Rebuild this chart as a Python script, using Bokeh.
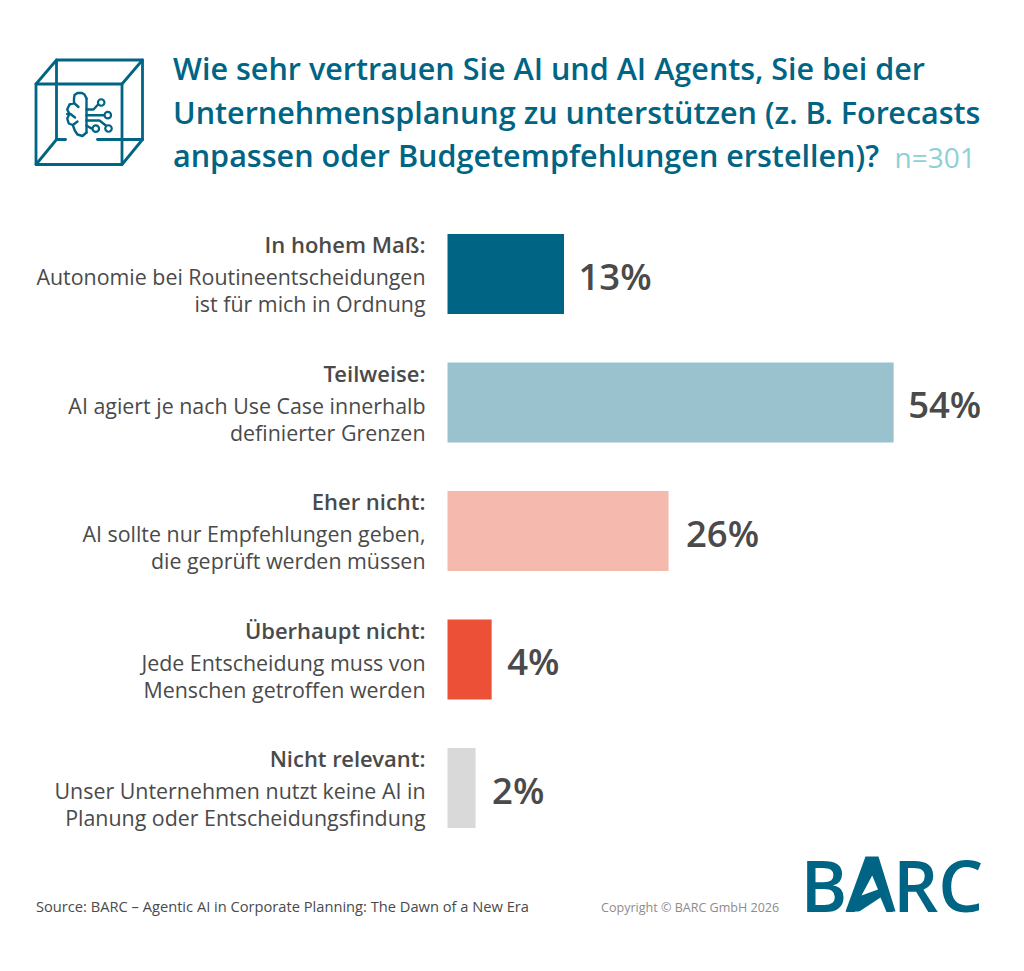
from bokeh.plotting import figure
from bokeh.models import Range1d
from bokeh.core.properties import value
from bokeh.embed import file_html
from bokeh.resources import INLINE

heads = ["In hohem Maß:", "Teilweise:", "Eher nicht:", "Überhaupt nicht:", "Nicht relevant:"]
line1 = ["Autonomie bei Routineentscheidungen", "AI agiert je nach Use Case innerhalb",
         "AI sollte nur Empfehlungen geben,", "Jede Entscheidung muss von",
         "Unser Unternehmen nutzt keine AI in"]
line2 = ["ist für mich in Ordnung", "definierter Grenzen", "die geprüft werden müssen",
         "Menschen getroffen werden", "Planung oder Entscheidungsfindung"]
values = [13, 54, 26, 4, 2]
colors = ["#006484", "#9AC1CE", "#F6B9AE", "#EC5036", "#D9D9D9"]
title_lines = ["Wie sehr vertrauen Sie AI und AI Agents, Sie bei der",
               "Unternehmensplanung zu unterstützen (z. B. Forecasts",
               "anpassen oder Budgetempfehlungen erstellen)?"]
n_label = "n=301"
source = "Source: BARC – Agentic AI in Corporate Planning: The Dawn of a New Era"
copyright_text = "Copyright © BARC GmbH 2026"
logo = "BARC"

TEAL = "#006484"
DARK = "#4A4A4A"
W, H = 1008, 955
ZERO_PX, PX_PER_PCT = 459.0, 8.04
ROW0, ROW_PX = 273.5, 128.5
BAR_H = 80 / ROW_PX
BASE = -12 / PX_PER_PCT

p = figure(width=W, height=H, output_backend="svg", toolbar_location=None,
           x_range=Range1d((0 - ZERO_PX) / PX_PER_PCT, (W - ZERO_PX) / PX_PER_PCT),
           y_range=Range1d((H - ROW0) / ROW_PX, (0 - ROW0) / ROW_PX),
           min_border=0, outline_line_color=None, background_fill_color="white",
           border_fill_color="white")
p.axis.visible = False
p.grid.visible = False
p.extra_x_ranges["px"] = Range1d(0, W)
p.extra_y_ranges["px"] = Range1d(H, 0)

rows = list(range(len(values)))
p.hbar(y=rows, left=BASE, right=values, height=BAR_H, color=colors, line_color=None)

FONT = value("Open Sans")
SEMI = value("Open Sans SemiBold")
right_px = [425] * len(rows)
p.text(x=right_px, y=rows, text=heads, x_range_name="px", y_offset=-30, text_align="right",
       text_baseline="alphabetic", text_font=SEMI,
       text_font_size="22px", text_color=DARK)
p.text(x=right_px, y=rows, text=line1, x_range_name="px", y_offset=2.7, text_align="right",
       text_baseline="alphabetic", text_font=FONT, text_font_size="21.4px", text_color=DARK)
p.text(x=right_px, y=rows, text=line2, x_range_name="px", y_offset=29.7, text_align="right",
       text_baseline="alphabetic", text_font=FONT, text_font_size="21.4px", text_color=DARK)
p.text(x=values, y=rows, text=[f"{v}%" for v in values], x_offset=[14.5, 14.5, 17.5, 15.5, 16.5],
       y_offset=1.5, text_baseline="alphabetic", text_font=SEMI,
       text_font_size="36.5px", text_color=DARK)

# title
p.text(x=[172.5] * 3, y=[67.5, 111.3, 154.2], text=title_lines, x_range_name="px", y_range_name="px",
       text_baseline="alphabetic", text_font=SEMI,
       text_font_size="30.55px", text_color=TEAL)
p.text(x=[894], y=[156], text=[n_label], x_range_name="px", y_range_name="px",
       text_baseline="alphabetic", text_font=FONT,
       text_font_size="28px", text_color="#8ED0D6")

# footer
p.text(x=[35.5], y=[905.7], text=[source], x_range_name="px", y_range_name="px",
       text_baseline="alphabetic", text_font=FONT, text_font_size="14.66px", text_color=DARK)
p.text(x=[600.5], y=[906.8], text=[copyright_text], x_range_name="px", y_range_name="px",
       text_baseline="alphabetic", text_font=FONT, text_font_size="12.56px", text_color="#8C8C8C")
p.text(x=[800], y=[883.5], text=[logo], x_range_name="px", y_range_name="px",
       text_baseline="alphabetic", text_font=SEMI, text_font_size="71px", text_color=TEAL)
# logo: the stylised A, with its slanted counter and open foot
p.patch(x=[865, 878, 895, 885, 845], y=[856, 856, 911, 911, 911], x_range_name="px",
        y_range_name="px", color=TEAL, line_color=None)
p.patches(xs=[[871.7, 861, 877.5], [858, 880, 886]], ys=[[875, 895, 889], [911.5, 897, 911.5]],
          x_range_name="px", y_range_name="px", color="white", line_color=None)

# icon: cube
cube_x = [[35.5, 121.5, 121.5, 35.5, 35.5], [56, 56, 142, 142], [56, 65], [97, 142],
          [35.5, 56], [121.5, 142], [35.5, 56], [121.5, 142]]
cube_y = [[83.5, 83.5, 164, 164, 83.5], [139, 59.5, 59.5, 139], [139, 139], [139, 139],
          [83.5, 59.5], [83.5, 59.5], [164, 139], [164, 139]]
p.multi_line(xs=cube_x, ys=cube_y, x_range_name="px", y_range_name="px",
             line_color=TEAL, line_width=2.8, line_join="round", line_cap="round")
# icon: brain outline, spine, curls and circuit
brain_x = [[86, 84, 81.5, 77, 74, 73.5, 73.5, 69, 66.7, 69, 66.7, 68.3, 72.3, 74.3, 77, 82, 86],
           [86, 86], [66.7, 70, 74.5], [73.5, 78], [72.3, 77],
           [86, 93, 98], [86, 104], [86, 99, 106], [86, 90, 92.5]]
brain_y = [[98, 94, 92.5, 92.5, 94.5, 98, 102.5, 104, 109, 113.5, 118, 123, 124.5, 130, 134, 135.5, 132],
           [98, 132], [113.5, 113.5, 117], [102.5, 106.5], [124.5, 121],
           [109, 109, 103.5], [114.7, 114.7], [120, 120, 125.5], [125, 127.5, 128]]
p.multi_line(xs=brain_x, ys=brain_y, x_range_name="px", y_range_name="px",
             line_color=TEAL, line_width=2.4, line_join="round", line_cap="round")
p.scatter(x=[100.7, 107.3, 95.3, 108], y=[102, 114.7, 128.2, 128], x_range_name="px",
          y_range_name="px", marker="circle", size=6.5, fill_color="white",
          line_color=TEAL, line_width=2.2)

open("out.html", "w").write(file_html(p, INLINE))
